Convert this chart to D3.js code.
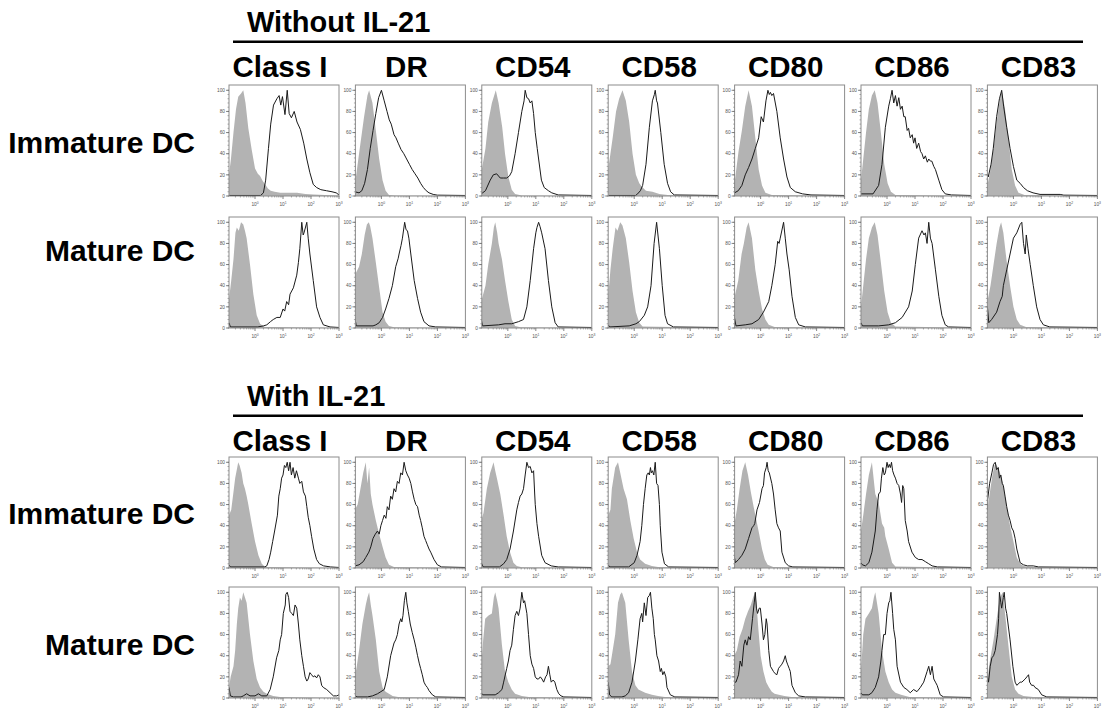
<!DOCTYPE html>
<html><head><meta charset="utf-8">
<script src="https://cdn.jsdelivr.net/npm/d3@7"></script>
<style>
html,body{margin:0;padding:0;background:#fff;}
svg{display:block;}
</style></head>
<body>
<svg id="chart" width="1107" height="711"></svg>
<script>
// ---------- labels ----------
const groupTitles = ["Without IL-21", "With IL-21"];
const markers = ["Class I", "DR", "CD54", "CD58", "CD80", "CD86", "CD83"];
const stageLabels = ["Immature DC", "Mature DC"];
const yTickValues = [0, 20, 40, 60, 80, 100];
const xTickValues = [1, 10, 100, 1000];
const xTickExponents = ["0", "1", "2", "3"];

// ---------- data: [log10 fluorescence, % of max] ----------
// Without IL-21, immature DC — isotype (grey filled)
const isoWithoutImmature = [
 [[-0.93,20],[-0.86,35],[-0.77,60],[-0.68,82],[-0.6,94],[-0.5,97],[-0.42,100],[-0.34,88],[-0.24,64],[-0.12,44],[0,26],[0.1,21],[0.18,19],[0.28,14],[0.36,11],[0.46,7],[0.56,5],[0.7,4],[0.9,3],[1.2,3],[1.5,3],[1.8,2],[2.1,1.5],[2.5,1],[3.0,0.5]],
 [[-0.95,10],[-0.8,40],[-0.62,75],[-0.5,95],[-0.44,100],[-0.32,88],[-0.2,62],[-0.08,35],[0.04,15],[0.15,5],[0.27,1],[0.5,0.5],[3.0,0.3]],
 [[-0.95,22],[-0.8,45],[-0.7,70],[-0.57,88],[-0.43,100],[-0.33,88],[-0.2,65],[-0.1,40],[0.02,18],[0.14,6],[0.26,2],[0.5,0.5],[3.0,0.3]],
 [[-0.93,25],[-0.77,55],[-0.65,80],[-0.54,92],[-0.42,100],[-0.3,90],[-0.18,70],[-0.06,40],[0.06,20],[0.18,12],[0.3,8],[0.42,5],[0.65,4],[0.9,2],[1.2,1],[3.0,0.5]],
 [[-0.95,8],[-0.87,25],[-0.79,42],[-0.67,62],[-0.55,85],[-0.43,100],[-0.31,85],[-0.19,55],[-0.07,25],[0.05,10],[0.17,3],[0.4,1],[3.0,0.3]],
 [[-0.93,15],[-0.85,35],[-0.75,60],[-0.65,82],[-0.54,95],[-0.44,100],[-0.34,88],[-0.22,60],[-0.1,30],[0.02,12],[0.14,4],[0.3,1],[3.0,0.3]],
 [[-0.93,10],[-0.82,25],[-0.71,45],[-0.6,70],[-0.48,92],[-0.42,100],[-0.3,82],[-0.18,55],[-0.06,25],[0.06,10],[0.18,3],[0.4,1],[3.0,0.3]]
];
// Without IL-21, immature DC — stained (black line)
const stainWithoutImmature = [
 [[-0.93,0.5],[0.2,0.5],[0.3,3],[0.38,15],[0.48,45],[0.56,68],[0.66,86],[0.78,92],[0.86,95],[0.92,86],[0.98,94],[1.07,77],[1.15,100],[1.22,78],[1.3,74],[1.4,80],[1.5,70],[1.62,63],[1.74,50],[1.85,35],[1.96,22],[2.08,11],[2.2,8],[2.35,6],[2.55,5],[2.75,4],[2.9,3],[3.0,1]],
 [[-0.95,4],[-0.8,3],[-0.7,5],[-0.6,12],[-0.5,25],[-0.4,45],[-0.3,62],[-0.2,78],[-0.1,93],[0,100],[0.1,90],[0.2,80],[0.28,72],[0.35,68],[0.45,58],[0.52,55],[0.6,50],[0.7,44],[0.8,40],[0.88,36],[1.0,30],[1.1,25],[1.2,21],[1.3,17],[1.4,12],[1.5,8],[1.6,5],[1.7,3],[1.85,1.5],[2.0,0.8],[3.0,0.5]],
 [[-0.95,2],[-0.8,5],[-0.63,15],[-0.52,20],[-0.4,21],[-0.27,17],[-0.15,17],[-0.04,17],[0.06,19],[0.14,23],[0.26,40],[0.38,60],[0.5,80],[0.58,90],[0.62,100],[0.68,93],[0.74,92],[0.8,88],[0.86,90],[0.92,78],[0.98,60],[1.05,45],[1.1,35],[1.2,15],[1.3,8],[1.4,6],[1.45,5],[1.57,3],[1.8,1],[3.0,0.5]],
 [[-0.93,0.5],[0.05,0.5],[0.12,2],[0.22,5],[0.3,10],[0.42,30],[0.54,65],[0.65,90],[0.72,96],[0.75,100],[0.8,90],[0.83,88],[0.95,60],[1.07,30],[1.19,12],[1.3,4],[1.43,1],[3.0,0.5]],
 [[-0.95,18],[-0.93,3],[-0.8,5],[-0.67,10],[-0.55,20],[-0.43,27],[-0.31,35],[-0.19,45],[-0.07,55],[0.02,75],[0.1,70],[0.19,90],[0.26,100],[0.31,96],[0.35,98],[0.4,95],[0.46,97],[0.58,80],[0.7,55],[0.82,35],[0.94,18],[1.06,8],[1.24,4],[1.5,2],[1.8,1],[3.0,0.5]],
 [[-0.93,2],[-0.5,2],[-0.3,10],[-0.18,30],[-0.06,65],[0.06,85],[0.12,92],[0.18,100],[0.24,88],[0.3,95],[0.36,85],[0.42,93],[0.48,82],[0.54,85],[0.6,75],[0.65,75],[0.72,62],[0.77,64],[0.83,55],[0.9,58],[0.95,50],[1.0,55],[1.06,45],[1.13,50],[1.2,42],[1.25,40],[1.31,35],[1.37,38],[1.44,32],[1.49,35],[1.55,33],[1.6,33],[1.67,28],[1.73,25],[1.85,15],[1.96,6],[2.08,2],[2.3,1],[3.0,0.5]],
 [[-0.93,20],[-0.9,18],[-0.8,30],[-0.72,45],[-0.6,75],[-0.5,92],[-0.42,100],[-0.35,85],[-0.24,65],[-0.12,45],[0,28],[0.12,15],[0.24,12],[0.36,8],[0.5,5],[0.7,3],[0.95,1.5],[1.67,1.5],[1.8,0.8],[3.0,0.5]]
];
// Without IL-21, mature DC — isotype
const isoWithoutMature = [
 [[-0.93,27],[-0.85,45],[-0.77,65],[-0.7,90],[-0.65,95],[-0.58,92],[-0.5,100],[-0.42,98],[-0.36,92],[-0.3,85],[-0.18,60],[-0.06,32],[0.06,12],[0.18,4],[0.35,1],[3.0,0.3]],
 [[-0.95,50],[-0.8,58],[-0.7,70],[-0.6,88],[-0.52,98],[-0.45,100],[-0.4,96],[-0.32,85],[-0.2,62],[-0.08,38],[0.04,15],[0.15,6],[0.27,2],[0.45,0.8],[3.0,0.3]],
 [[-0.95,25],[-0.8,40],[-0.7,60],[-0.57,80],[-0.5,95],[-0.45,100],[-0.38,90],[-0.33,80],[-0.21,65],[-0.1,45],[0.02,25],[0.14,8],[0.26,2],[0.45,0.8],[3.0,0.3]],
 [[-0.93,30],[-0.85,55],[-0.77,75],[-0.67,95],[-0.6,92],[-0.5,100],[-0.42,97],[-0.3,85],[-0.18,62],[-0.06,35],[0.06,15],[0.18,5],[0.3,1.5],[3.0,0.3]],
 [[-0.95,27],[-0.8,45],[-0.68,70],[-0.6,80],[-0.5,95],[-0.43,100],[-0.31,85],[-0.19,55],[-0.07,35],[0.05,18],[0.17,8],[0.29,3],[0.5,1],[3.0,0.3]],
 [[-0.93,20],[-0.85,40],[-0.75,65],[-0.65,85],[-0.54,95],[-0.44,100],[-0.34,88],[-0.22,62],[-0.1,35],[0.02,15],[0.14,5],[0.3,1.5],[3.0,0.3]],
 [[-0.93,25],[-0.82,40],[-0.71,60],[-0.6,80],[-0.5,95],[-0.44,100],[-0.36,90],[-0.25,65],[-0.12,40],[0,20],[0.12,8],[0.24,3],[0.45,1],[3.0,0.3]]
];
// Without IL-21, mature DC — stained
const stainWithoutMature = [
 [[-0.93,5],[-0.88,1],[0.1,1],[0.3,2],[0.42,3],[0.55,6],[0.65,8],[0.78,10],[0.9,10],[1.0,18],[1.06,16],[1.13,25],[1.2,22],[1.25,32],[1.37,38],[1.49,50],[1.55,62],[1.6,75],[1.67,100],[1.72,88],[1.75,90],[1.85,100],[1.9,85],[1.96,70],[2.08,45],[2.2,20],[2.32,10],[2.44,3],[2.68,1],[3.0,0.5]],
 [[-0.95,10],[-0.9,2],[-0.3,2],[-0.2,3],[-0.08,5],[0.04,10],[0.15,18],[0.27,28],[0.39,40],[0.51,58],[0.6,66],[0.63,70],[0.7,78],[0.75,85],[0.83,100],[0.88,93],[0.93,92],[0.98,85],[1.05,70],[1.17,45],[1.29,28],[1.4,15],[1.52,6],[1.7,2],[1.94,1],[3.0,0.5]],
 [[-0.95,8],[-0.9,2],[-0.33,3],[-0.1,4],[0.14,4],[0.38,6],[0.56,8],[0.68,20],[0.8,45],[0.92,75],[1.0,90],[1.04,95],[1.1,100],[1.15,96],[1.21,90],[1.33,75],[1.45,45],[1.57,20],[1.69,5],[1.8,1],[3.0,0.5]],
 [[-0.93,3],[-0.88,1],[-0.18,2],[0.06,4],[0.18,6],[0.36,12],[0.48,20],[0.6,40],[0.71,80],[0.8,100],[0.9,75],[1.0,40],[1.1,12],[1.19,4],[1.4,1],[3.0,0.5]],
 [[-0.95,12],[-0.88,2],[-0.55,3],[-0.31,4],[-0.07,8],[0.1,15],[0.29,25],[0.4,40],[0.52,60],[0.61,82],[0.66,80],[0.7,85],[0.82,100],[0.88,85],[0.94,70],[1.02,55],[1.12,30],[1.24,10],[1.36,3],[1.6,1],[3.0,0.5]],
 [[-0.93,5],[-0.88,2],[-0.3,2],[0.06,3],[0.3,5],[0.54,10],[0.77,20],[0.9,35],[1.01,60],[1.13,85],[1.25,92],[1.32,88],[1.37,90],[1.43,80],[1.49,100],[1.55,85],[1.61,80],[1.73,55],[1.85,30],[1.96,12],[2.08,3],[2.2,1],[3.0,0.5]],
 [[-0.93,20],[-0.88,5],[-0.78,8],[-0.6,15],[-0.48,25],[-0.4,30],[-0.36,40],[-0.24,55],[-0.12,70],[0,85],[0.12,90],[0.24,98],[0.3,100],[0.36,80],[0.42,70],[0.46,88],[0.52,75],[0.6,60],[0.71,40],[0.83,20],[0.95,8],[1.07,3],[1.3,1],[3.0,0.5]]
];
// With IL-21, immature DC — isotype
const isoWithImmature = [
 [[-0.93,50],[-0.85,55],[-0.77,72],[-0.71,85],[-0.6,100],[-0.55,97],[-0.48,90],[-0.42,80],[-0.36,75],[-0.3,68],[-0.24,60],[-0.12,42],[0,25],[0.12,12],[0.24,4],[0.36,1],[3.0,0.3]],
 [[-0.95,55],[-0.85,60],[-0.75,75],[-0.65,90],[-0.56,100],[-0.5,80],[-0.44,95],[-0.38,70],[-0.32,60],[-0.2,45],[-0.08,32],[0.04,20],[0.15,10],[0.27,3],[0.45,1],[3.0,0.3]],
 [[-0.95,45],[-0.87,52],[-0.75,75],[-0.63,90],[-0.51,100],[-0.45,92],[-0.39,85],[-0.27,70],[-0.15,50],[-0.04,30],[0.08,15],[0.2,5],[0.32,2],[0.5,0.8],[3.0,0.3]],
 [[-0.93,50],[-0.85,55],[-0.8,75],[-0.68,95],[-0.58,100],[-0.5,90],[-0.38,75],[-0.26,65],[-0.14,45],[-0.02,28],[0.1,15],[0.21,8],[0.39,4],[0.63,2],[0.85,1],[3.0,0.3]],
 [[-0.95,40],[-0.85,55],[-0.75,75],[-0.65,92],[-0.55,100],[-0.45,88],[-0.35,72],[-0.25,58],[-0.15,45],[-0.05,32],[0.05,18],[0.15,8],[0.25,3],[0.45,1],[3.0,0.3]],
 [[-0.93,35],[-0.85,50],[-0.75,70],[-0.65,88],[-0.54,100],[-0.48,85],[-0.42,70],[-0.3,62],[-0.18,42],[-0.1,38],[-0.06,30],[0.06,18],[0.18,5],[0.3,1.5],[3.0,0.3]],
 [[-0.93,55],[-0.85,70],[-0.75,88],[-0.65,100],[-0.56,95],[-0.48,90],[-0.36,78],[-0.24,58],[-0.12,40],[0,25],[0.12,10],[0.24,4],[0.36,2],[0.6,1],[3.0,0.3]]
];
// With IL-21, immature DC — stained
const stainWithImmature = [
 [[-0.93,3],[-0.88,1],[0.35,1],[0.42,2],[0.5,8],[0.56,15],[0.63,25],[0.7,35],[0.8,50],[0.85,68],[0.9,75],[0.95,85],[1.0,88],[1.05,97],[1.1,95],[1.15,100],[1.2,92],[1.25,100],[1.3,88],[1.36,95],[1.42,85],[1.48,92],[1.55,85],[1.6,80],[1.67,82],[1.73,72],[1.8,68],[1.85,58],[1.9,48],[1.96,40],[2.02,30],[2.1,18],[2.2,8],[2.3,4],[2.45,2],[2.7,1],[3.0,0.5]],
 [[-0.95,2],[-0.8,3],[-0.65,6],[-0.56,10],[-0.45,15],[-0.38,20],[-0.3,28],[-0.22,32],[-0.14,35],[-0.08,32],[-0.02,40],[0.04,45],[0.1,50],[0.16,47],[0.21,58],[0.27,55],[0.33,68],[0.39,65],[0.45,75],[0.51,72],[0.57,82],[0.63,80],[0.69,90],[0.75,88],[0.81,100],[0.87,92],[0.93,88],[0.99,85],[1.05,80],[1.11,72],[1.17,65],[1.23,60],[1.29,58],[1.35,50],[1.4,45],[1.46,38],[1.52,30],[1.58,26],[1.64,22],[1.7,18],[1.76,15],[1.88,8],[2.0,3],[2.15,1],[3.0,0.5]],
 [[-0.95,5],[-0.88,1],[-0.3,1],[-0.15,4],[-0.04,8],[0.08,18],[0.2,35],[0.32,55],[0.38,62],[0.44,68],[0.5,70],[0.56,75],[0.62,88],[0.68,100],[0.74,95],[0.8,96],[0.86,90],[0.92,92],[0.96,70],[0.98,60],[1.04,42],[1.1,30],[1.21,12],[1.33,5],[1.55,2],[1.8,1],[3.0,0.5]],
 [[-0.93,3],[-0.88,1],[-0.2,1],[0,5],[0.1,12],[0.21,25],[0.27,40],[0.33,60],[0.39,75],[0.45,88],[0.5,90],[0.54,88],[0.58,95],[0.61,90],[0.65,92],[0.7,88],[0.75,100],[0.8,80],[0.85,78],[0.9,60],[0.93,40],[0.99,15],[1.08,4],[1.23,1],[3.0,0.5]],
 [[-0.95,12],[-0.9,5],[-0.79,8],[-0.67,12],[-0.55,18],[-0.43,28],[-0.31,38],[-0.25,40],[-0.21,42],[-0.13,55],[-0.04,62],[0.05,75],[0.1,78],[0.14,90],[0.2,95],[0.23,100],[0.27,92],[0.31,90],[0.4,80],[0.46,70],[0.52,55],[0.58,42],[0.64,38],[0.7,35],[0.76,15],[0.88,5],[1.0,2],[1.15,1],[3.0,0.5]],
 [[-0.93,5],[-0.88,3],[-0.77,2],[-0.65,5],[-0.54,15],[-0.42,35],[-0.36,55],[-0.3,70],[-0.24,72],[-0.2,85],[-0.15,95],[-0.1,88],[-0.06,90],[0,100],[0.04,95],[0.08,98],[0.12,95],[0.16,100],[0.2,92],[0.25,88],[0.3,85],[0.36,80],[0.42,78],[0.48,70],[0.52,62],[0.56,78],[0.6,75],[0.65,45],[0.72,35],[0.77,25],[0.89,15],[1.01,10],[1.13,8],[1.25,8],[1.37,6],[1.49,4],[1.61,2],[1.8,1],[3.0,0.5]],
 [[-0.93,55],[-0.92,65],[-0.85,80],[-0.77,90],[-0.71,98],[-0.65,100],[-0.6,93],[-0.54,95],[-0.5,85],[-0.45,88],[-0.4,80],[-0.36,78],[-0.3,68],[-0.24,58],[-0.18,50],[-0.12,45],[-0.06,38],[0,35],[0.06,28],[0.12,18],[0.24,5],[0.36,3],[0.5,2],[0.71,2],[0.9,1],[3.0,0.5]]
];
// With IL-21, mature DC — isotype
const isoWithMature = [
 [[-0.93,10],[-0.87,20],[-0.77,30],[-0.71,45],[-0.65,70],[-0.6,85],[-0.54,95],[-0.48,92],[-0.42,100],[-0.36,95],[-0.3,90],[-0.18,60],[-0.06,35],[0.06,18],[0.18,10],[0.3,6],[0.42,4],[0.65,2],[0.9,1],[3.0,0.3]],
 [[-0.95,20],[-0.88,30],[-0.8,45],[-0.68,70],[-0.56,88],[-0.5,95],[-0.44,100],[-0.38,88],[-0.32,78],[-0.2,55],[-0.08,25],[0.04,10],[0.15,6],[0.27,4],[0.4,2],[0.6,1],[3.0,0.3]],
 [[-0.95,30],[-0.88,55],[-0.81,75],[-0.69,78],[-0.57,80],[-0.5,95],[-0.45,100],[-0.38,92],[-0.33,85],[-0.21,50],[-0.1,25],[0.02,15],[0.14,8],[0.26,4],[0.5,2],[0.75,1],[3.0,0.3]],
 [[-0.93,30],[-0.85,32],[-0.8,40],[-0.68,60],[-0.58,90],[-0.5,98],[-0.44,100],[-0.38,95],[-0.32,90],[-0.2,55],[-0.08,25],[0.04,12],[0.15,8],[0.39,5],[0.63,3],[0.85,2],[1.1,1],[3.0,0.3]],
 [[-0.95,40],[-0.85,45],[-0.75,58],[-0.65,65],[-0.55,75],[-0.45,82],[-0.35,88],[-0.27,95],[-0.2,100],[-0.15,90],[-0.08,65],[0,40],[0.1,25],[0.2,15],[0.3,10],[0.4,6],[0.5,4],[0.65,3],[0.85,2],[1.1,1],[3.0,0.3]],
 [[-0.93,25],[-0.85,60],[-0.77,75],[-0.65,80],[-0.54,85],[-0.47,95],[-0.42,100],[-0.36,90],[-0.3,80],[-0.18,45],[-0.06,25],[0.06,15],[0.18,8],[0.3,5],[0.5,3],[0.8,1],[3.0,0.3]],
 [[-0.93,15],[-0.87,30],[-0.81,40],[-0.71,55],[-0.6,75],[-0.48,95],[-0.38,100],[-0.3,80],[-0.18,50],[-0.06,20],[0.06,8],[0.18,4],[0.36,2],[0.71,1],[3.0,0.3]]
];
// With IL-21, mature DC — stained
const stainWithMature = [
 [[-0.93,10],[-0.88,2],[-0.77,1],[-0.5,1],[-0.42,2],[-0.3,4],[-0.18,2],[0,2],[0.12,4],[0.24,2],[0.42,2],[0.54,8],[0.65,20],[0.77,38],[0.85,45],[0.9,55],[0.95,60],[1.01,80],[1.08,88],[1.1,98],[1.15,100],[1.2,95],[1.25,82],[1.31,80],[1.37,78],[1.43,88],[1.49,85],[1.55,70],[1.6,55],[1.67,40],[1.73,30],[1.79,20],[1.85,16],[1.9,18],[1.96,24],[2.02,22],[2.08,20],[2.14,21],[2.2,19],[2.26,22],[2.32,20],[2.38,12],[2.44,10],[2.56,8],[2.68,5],[2.8,2],[2.92,2],[3.0,3]],
 [[-0.95,3],[-0.88,1],[-0.5,1],[-0.32,2],[-0.14,4],[-0.02,6],[0.1,8],[0.21,20],[0.33,40],[0.45,52],[0.51,55],[0.57,60],[0.63,70],[0.69,75],[0.73,72],[0.77,78],[0.82,92],[0.87,100],[0.91,90],[0.96,82],[1.03,70],[1.1,62],[1.17,55],[1.23,48],[1.29,40],[1.35,33],[1.4,28],[1.46,22],[1.52,15],[1.58,12],[1.64,10],[1.7,7],[1.82,3],[1.94,1],[3.0,0.5]],
 [[-0.95,5],[-0.9,3],[-0.6,3],[-0.45,3],[-0.33,5],[-0.21,8],[-0.15,15],[-0.04,28],[0.02,35],[0.08,45],[0.14,50],[0.2,65],[0.26,78],[0.32,82],[0.38,78],[0.44,85],[0.5,100],[0.56,90],[0.6,92],[0.68,80],[0.74,60],[0.8,40],[0.86,32],[0.92,28],[0.98,20],[1.04,18],[1.1,18],[1.16,20],[1.22,18],[1.28,15],[1.35,20],[1.4,22],[1.45,30],[1.5,22],[1.55,15],[1.62,17],[1.68,15],[1.75,8],[1.82,4],[1.9,2],[2.0,1],[3.0,0.5]],
 [[-0.93,15],[-0.88,3],[-0.8,1],[-0.44,1],[-0.32,2],[-0.2,5],[-0.08,15],[0.04,35],[0.13,55],[0.21,75],[0.27,80],[0.3,72],[0.36,90],[0.42,78],[0.48,95],[0.54,97],[0.58,100],[0.63,85],[0.68,75],[0.72,60],[0.75,55],[0.81,40],[0.87,35],[0.93,25],[0.97,28],[1.02,22],[1.07,25],[1.13,20],[1.17,10],[1.29,3],[1.45,1],[3.0,0.5]],
 [[-0.95,15],[-0.88,15],[-0.79,22],[-0.73,35],[-0.67,30],[-0.6,50],[-0.55,55],[-0.49,50],[-0.43,58],[-0.37,55],[-0.29,75],[-0.23,90],[-0.19,100],[-0.15,85],[-0.11,80],[-0.05,85],[-0.01,85],[0.05,70],[0.1,55],[0.15,60],[0.2,75],[0.23,70],[0.29,45],[0.35,30],[0.46,25],[0.52,23],[0.58,22],[0.64,28],[0.7,30],[0.76,32],[0.82,35],[0.88,40],[0.92,35],[0.96,32],[1.02,28],[1.06,25],[1.12,12],[1.24,5],[1.36,2],[1.6,1],[3.0,0.5]],
 [[-0.93,5],[-0.88,3],[-0.65,3],[-0.54,5],[-0.42,10],[-0.3,20],[-0.22,35],[-0.18,45],[-0.12,60],[-0.06,60],[0,80],[0.06,90],[0.1,92],[0.14,100],[0.2,80],[0.24,65],[0.3,55],[0.36,30],[0.48,15],[0.6,10],[0.71,8],[0.83,5],[0.95,8],[1.07,6],[1.19,10],[1.31,15],[1.43,25],[1.49,30],[1.55,22],[1.61,30],[1.67,18],[1.73,15],[1.79,12],[1.9,3],[2.02,1],[3.0,0.5]],
 [[-0.93,20],[-0.89,15],[-0.83,30],[-0.77,38],[-0.71,40],[-0.65,45],[-0.57,60],[-0.53,75],[-0.5,100],[-0.45,90],[-0.42,85],[-0.36,95],[-0.33,100],[-0.28,85],[-0.24,80],[-0.12,55],[-0.02,30],[0.06,15],[0.12,12],[0.24,15],[0.3,15],[0.42,18],[0.48,20],[0.54,22],[0.58,15],[0.65,12],[0.72,12],[0.77,10],[0.89,8],[1.01,3],[1.19,1],[3.0,0.5]]
];

// ---------- layout ----------
const W = 1107, H = 711;
const FONT = "'Liberation Sans', Arial, Helvetica, sans-serif";
const colX0 = 229, colStep = 126.4, boxW = 110, boxH = 111;
const rows = [
  {group:0, stage:0, top:85,  labelY:153, iso:isoWithoutImmature, stain:stainWithoutImmature},
  {group:0, stage:1, top:217, labelY:261, iso:isoWithoutMature,   stain:stainWithoutMature},
  {group:1, stage:0, top:457, labelY:524, iso:isoWithImmature,    stain:stainWithImmature},
  {group:1, stage:1, top:587, labelY:655, iso:isoWithMature,      stain:stainWithMature}
];
const groupLayout = [
  {titleY:32,  lineY:41.7,  headerY:77},
  {titleY:406, lineY:415.7, headerY:451}
];

const svg = d3.select("#chart");
svg.append("rect").attr("width", W).attr("height", H).attr("fill", "#fff");

svg.append("defs").append("clipPath").attr("id", "panelClip")
  .append("rect").attr("x", 0).attr("y", 0).attr("width", boxW).attr("height", boxH);

const x = d3.scaleLog().domain([Math.pow(10, -0.93), 1000]).range([0, boxW]);
const y = d3.scaleLinear().domain([0, 105]).range([boxH, 0]);

const area = d3.area().x(d => x(Math.pow(10, d[0]))).y0(boxH).y1(d => y(d[1]));
const line = d3.line().x(d => x(Math.pow(10, d[0]))).y(d => y(d[1]));

groupTitles.forEach((t, gi) => {
  const L = groupLayout[gi];
  svg.append("text").attr("x", 247).attr("y", L.titleY)
    .attr("font-family", FONT).attr("font-weight", "bold").attr("font-size", 29)
    .attr("fill", "#000").text(t);
  svg.append("line").attr("x1", 233).attr("x2", 1083).attr("y1", L.lineY).attr("y2", L.lineY)
    .attr("stroke", "#000").attr("stroke-width", 2.4);
  markers.forEach((m, ci) => {
    svg.append("text").attr("x", colX0 + ci * colStep + boxW / 2 - 4).attr("y", L.headerY)
      .attr("text-anchor", "middle")
      .attr("font-family", FONT).attr("font-weight", "bold").attr("font-size", 29.5)
      .attr("fill", "#000").text(m);
  });
});

const yMinor = d3.range(0, 101, 4);
const xMinor = [];
[0.1, 1, 10, 100].forEach(dec => { for (let k = 2; k <= 9; k++) { const v = dec * k; if (v >= x.domain()[0] && v <= 1000) xMinor.push(v); } });

rows.forEach(r => {
  svg.append("text").attr("x", 195).attr("y", r.labelY).attr("text-anchor", "end")
    .attr("font-family", FONT).attr("font-weight", "bold").attr("font-size", 30)
    .attr("fill", "#000").text(stageLabels[r.stage]);

  markers.forEach((m, ci) => {
    const g = svg.append("g").attr("transform", `translate(${colX0 + ci * colStep},${r.top})`);
    const plot = g.append("g").attr("clip-path", "url(#panelClip)");
    plot.append("path").datum(r.iso[ci]).attr("d", area).attr("fill", "#b3b3b3").attr("stroke", "none");
    plot.append("path").datum(r.stain[ci]).attr("d", line).attr("fill", "none")
      .attr("stroke", "#1a1a1a").attr("stroke-width", 1).attr("stroke-linejoin", "round");

    g.append("rect").attr("x", 0).attr("y", 0).attr("width", boxW).attr("height", boxH)
      .attr("fill", "none").attr("stroke", "#8c8c8c").attr("stroke-width", 1);

    g.selectAll(".ymin").data(yMinor).enter().append("line")
      .attr("x1", -1.5).attr("x2", 0).attr("y1", d => y(d)).attr("y2", d => y(d))
      .attr("stroke", "#777").attr("stroke-width", 0.6);
    g.selectAll(".ymaj").data(yTickValues).enter().append("line")
      .attr("x1", -3).attr("x2", 0).attr("y1", d => y(d)).attr("y2", d => y(d))
      .attr("stroke", "#666").attr("stroke-width", 0.8);
    g.selectAll(".ylab").data(yTickValues).enter().append("text")
      .attr("x", -4).attr("y", d => y(d) + 1.7).attr("text-anchor", "end")
      .attr("font-family", FONT).attr("font-size", 4.8).attr("fill", "#555")
      .text(d => d);

    g.selectAll(".xmin").data(xMinor).enter().append("line")
      .attr("x1", d => x(d)).attr("x2", d => x(d)).attr("y1", boxH).attr("y2", boxH + 1.5)
      .attr("stroke", "#777").attr("stroke-width", 0.6);
    g.selectAll(".xmaj").data(xTickValues).enter().append("line")
      .attr("x1", d => x(d)).attr("x2", d => x(d)).attr("y1", boxH).attr("y2", boxH + 3)
      .attr("stroke", "#666").attr("stroke-width", 0.8);
    const xl = g.selectAll(".xlab").data(xTickValues).enter().append("text")
      .attr("x", d => x(d)).attr("y", boxH + 10).attr("text-anchor", "middle")
      .attr("font-family", FONT).attr("font-size", 4.8).attr("fill", "#555");
    xl.append("tspan").text("10");
    xl.append("tspan").attr("dy", -2.2).attr("font-size", 3.4).text((d, i) => xTickExponents[i]);
  });
});
</script>
</body></html>
